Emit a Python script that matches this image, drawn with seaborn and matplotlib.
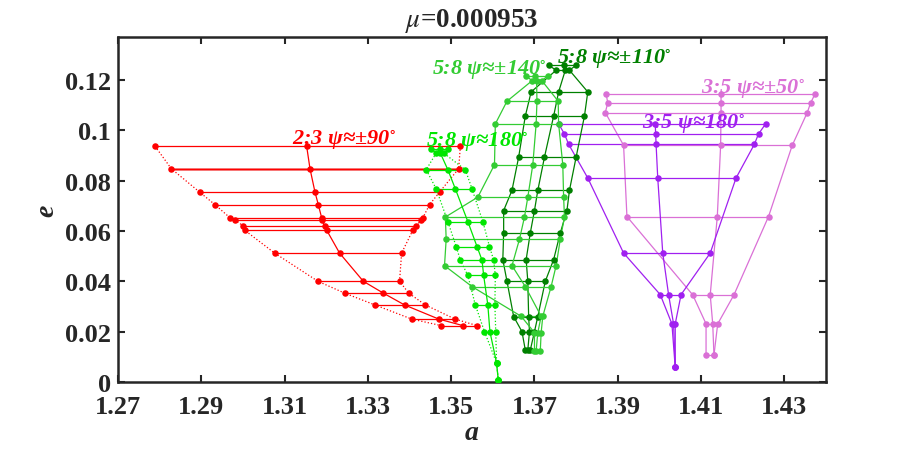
import numpy as np
import pandas as pd
import matplotlib
matplotlib.use("Agg")
import matplotlib.pyplot as plt
import seaborn as sns

# ---------------- data ----------------
red_e = [0.0936, 0.0847, 0.0754, 0.0704, 0.0652, 0.0644, 0.0619, 0.0603, 0.0512, 0.0400, 0.0353, 0.0306, 0.0250, 0.0224]
red_left = [1.2789, 1.2828, 1.2896, 1.2933, 1.2969, 1.2981, 1.3001, 1.3004, 1.3076, 1.3180, 1.3244, 1.3317, 1.3405, 1.3476]
red_mid = [1.3153, 1.3161, 1.3173, 1.3181, 1.3189, 1.3190, 1.3196, 1.3201, 1.3232, 1.3289, 1.3337, 1.3388, 1.3470, 1.3528]
red_right = [1.3522, 1.3518, 1.3472, 1.3448, 1.3432, 1.3428, 1.3416, 1.3408, 1.3381, 1.3376, 1.3398, 1.3438, 1.3509, 1.3562]

lime_e = [0.0926, 0.0909, 0.0843, 0.0767, 0.0637, 0.0538, 0.0484, 0.0423, 0.0306, 0.0200, 0.0076, 0.0009]
lime_left = [1.3452, 1.3464, 1.3440, 1.3464, 1.3492, 1.3512, 1.3522, 1.3540, 1.3558, 1.3580, 1.3609, 1.3613]
lime_mid = [1.3472, 1.3474, 1.3492, 1.3510, 1.3540, 1.3562, 1.3574, 1.3578, 1.3588, 1.3593, 1.3609, 1.3613]
lime_right = [1.3492, 1.3482, 1.3534, 1.3550, 1.3576, 1.3592, 1.3602, 1.3606, 1.3605, 1.3607, 1.3609, 1.3613]

mgreen_e = [0.1217, 0.1196, 0.1115, 0.1025, 0.0863, 0.0734, 0.0655, 0.0567, 0.0462, 0.0379, 0.0261, 0.0196, 0.0124]
mgreen_left = [1.3680, 1.3694, 1.3634, 1.3606, 1.3604, 1.3564, 1.3486, 1.3488, 1.3484, 1.3550, 1.3668, 1.3700, 1.3700]
mgreen_mid = [1.3702, 1.3705, 1.3706, 1.3704, 1.3696, 1.3684, 1.3676, 1.3664, 1.3646, 1.3678, 1.3716, 1.3708, 1.3704]
mgreen_right = [1.3732, 1.3718, 1.3757, 1.3758, 1.3768, 1.3770, 1.3772, 1.3762, 1.3752, 1.3740, 1.3720, 1.3716, 1.3714]

dgreen_e = [0.1258, 0.1238, 0.1152, 0.1056, 0.0893, 0.0761, 0.0681, 0.0592, 0.0486, 0.0400, 0.0260, 0.0200, 0.0127]
dgreen_left = [1.3734, 1.3752, 1.3692, 1.3678, 1.3662, 1.3646, 1.3626, 1.3626, 1.3624, 1.3634, 1.3650, 1.3670, 1.3678]
dgreen_mid = [1.3772, 1.3774, 1.3758, 1.3746, 1.3724, 1.3708, 1.3700, 1.3690, 1.3680, 1.3684, 1.3686, 1.3688, 1.3684]
dgreen_right = [1.3800, 1.3784, 1.3828, 1.3820, 1.3800, 1.3784, 1.3778, 1.3762, 1.3746, 1.3726, 1.3708, 1.3700, 1.3690]

purple_e = [0.1025, 0.0985, 0.0944, 0.0810, 0.0512, 0.0347, 0.0231, 0.0058]
purple_left = [1.3758, 1.3772, 1.3782, 1.3828, 1.3914, 1.4002, 1.4030, 1.4038]
purple_mid = [1.3990, 1.3991, 1.3992, 1.3996, 1.4008, 1.4022, 1.4034, 1.4038]
purple_right = [1.4255, 1.4238, 1.4228, 1.4184, 1.4122, 1.4052, 1.4038, 1.4038]

orchid_e = [0.1145, 0.1108, 0.1070, 0.0940, 0.0657, 0.0346, 0.0231, 0.0107]
orchid_left = [1.3872, 1.3876, 1.3870, 1.3914, 1.3922, 1.4080, 1.4112, 1.4112]
orchid_mid = [1.4148, 1.4148, 1.4148, 1.4147, 1.4139, 1.4122, 1.4128, 1.4131]
orchid_right = [1.4374, 1.4363, 1.4355, 1.4319, 1.4262, 1.4179, 1.4140, 1.4131]

label_texts = ["2:3 ψ≈±90", "5:8 ψ≈180", "5:8 ψ≈±140", "5:8 ψ≈±110", "3:5 ψ≈180", "3:5 ψ≈±50"]
label_a = [1.3117, 1.3440, 1.3455, 1.3755, 1.3959, 1.4100]
label_e = [0.0946, 0.0938, 0.1225, 0.1268, 0.1010, 0.1149]

x_ticks = [1.27, 1.29, 1.31, 1.33, 1.35, 1.37, 1.39, 1.41, 1.43]
y_ticks = [0, 0.02, 0.04, 0.06, 0.08, 0.1, 0.12]
y_ticklabels = ["0", "0.02", "0.04", "0.06", "0.08", "0.1", "0.12"]

# ---------------- style ----------------
sns.set_style("ticks")
plt.rcParams["font.family"] = ["Liberation Serif", "DejaVu Serif"]
plt.rcParams["mathtext.fontset"] = "stix"

RED = "#ff0000"
LIME = "#00e600"
MGREEN = "#33cc33"
DGREEN = "#008000"
PURPLE = "#a020f0"
ORCHID = "#da70d6"

fig = plt.figure(figsize=(9.12, 4.52), dpi=100)
ax = fig.add_axes([118 / 912, 1 - 383 / 452, (826 - 118) / 912, (383 - 38) / 452])


def draw_family(e, left, mid, right, color, side_ls, lw=0.9):
    rows = []
    for i, (ee, l, m, r) in enumerate(zip(e, left, mid, right)):
        for aa in (l, m, r):
            rows.append({"a": aa, "e": ee, "seg": i})
    hdf = pd.DataFrame(rows)
    sns.lineplot(data=hdf, x="a", y="e", units="seg", estimator=None, sort=False,
                 color=color, lw=lw, ax=ax, legend=False)
    for arr, ls in ((left, side_ls), (mid, "-"), (right, side_ls)):
        cdf = pd.DataFrame({"a": arr, "e": e})
        sns.lineplot(data=cdf, x="a", y="e", estimator=None, sort=False,
                     color=color, lw=lw, linestyle=ls, ax=ax, legend=False)
    pts = pd.DataFrame({"a": list(left) + list(mid) + list(right), "e": list(e) * 3})
    sns.scatterplot(data=pts, x="a", y="e", color=color, s=22, linewidth=0,
                    ax=ax, zorder=3, legend=False)


draw_family(red_e, red_left, red_mid, red_right, RED, ":")
# highlighted second red row
sns.lineplot(x=[red_left[1], red_right[1]], y=[red_e[1], red_e[1]], color="#f47c7c",
             lw=2.0, ax=ax, estimator=None, sort=False, zorder=1)
draw_family(orchid_e, orchid_left, orchid_mid, orchid_right, ORCHID, "-")
draw_family(purple_e, purple_left, purple_mid, purple_right, PURPLE, "-")
draw_family(dgreen_e, dgreen_left, dgreen_mid, dgreen_right, DGREEN, "-")
draw_family(mgreen_e, mgreen_left, mgreen_mid, mgreen_right, MGREEN, "-")
draw_family(lime_e, lime_left, lime_mid, lime_right, LIME, ":")

label_colors = [RED, LIME, MGREEN, DGREEN, PURPLE, ORCHID]
for t, xa, ye, c in zip(label_texts, label_a, label_e, label_colors):
    ax.text(xa, ye, t + r"$^{\circ}$", color=c, fontsize=16, fontweight="bold",
            fontstyle="italic", ha="left", va="baseline", zorder=5)

ax.set_xlim(1.27, 1.44)
ax.set_ylim(0, 0.137)
ax.set_xticks(x_ticks)
ax.set_xticklabels([f"{v:.2f}" for v in x_ticks])
ax.set_yticks(y_ticks)
ax.set_yticklabels(y_ticklabels)
for lab in ax.get_xticklabels() + ax.get_yticklabels():
    lab.set_fontweight("bold")
    lab.set_fontsize(19)
ax.tick_params(axis="both", direction="in", length=5, width=1.5, colors="#262626",
               top=True, right=True)
ax.tick_params(axis="x", pad=9.5)
ax.tick_params(axis="y", pad=5)
for sp in ax.spines.values():
    sp.set_visible(True)
    sp.set_linewidth(1.8)
    sp.set_color("#262626")

ax.set_xlabel("a", fontsize=20, fontstyle="italic", fontweight="bold", labelpad=1)
ax.set_ylabel("e", fontsize=20, fontstyle="italic", fontweight="bold", labelpad=4)
ax.set_title(r"$\mu$=0.000953", fontsize=19.5, fontweight="bold", pad=8)

fig.savefig("out.png", dpi=100)
